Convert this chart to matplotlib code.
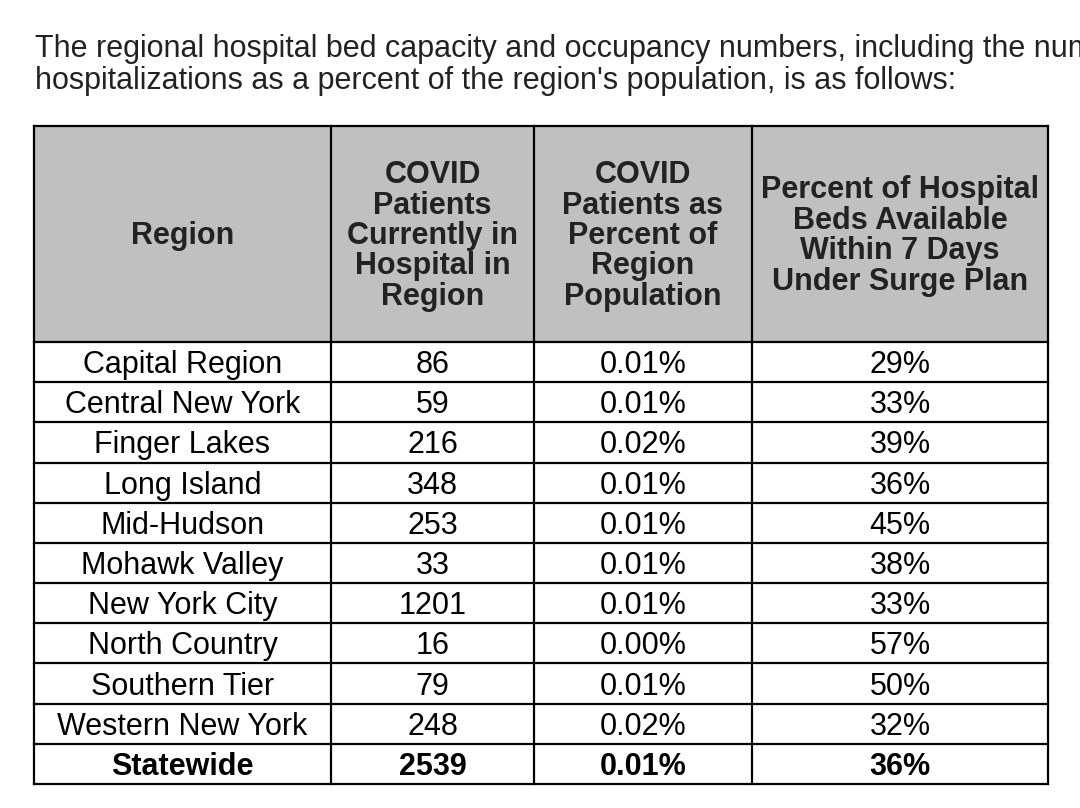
import matplotlib.pyplot as plt

# table content
intro = ("The regional hospital bed capacity and occupancy numbers, including the number of COVID-19\n"
         "hospitalizations as a percent of the region's population, is as follows:")
headers = ["Region",
           "COVID\nPatients\nCurrently in\nHospital in\nRegion",
           "COVID\nPatients as\nPercent of\nRegion\nPopulation",
           "Percent of Hospital\nBeds Available\nWithin 7 Days\nUnder Surge Plan"]
regions = ["Capital Region", "Central New York", "Finger Lakes", "Long Island",
           "Mid-Hudson", "Mohawk Valley", "New York City", "North Country",
           "Southern Tier", "Western New York", "Statewide"]
patients = [86, 59, 216, 348, 253, 33, 1201, 16, 79, 248, 2539]
pct_population = ["0.01%", "0.01%", "0.02%", "0.01%", "0.01%", "0.01%",
                  "0.01%", "0.00%", "0.01%", "0.02%", "0.01%"]
pct_beds = ["29%", "33%", "39%", "36%", "45%", "38%", "33%", "57%", "50%", "32%", "36%"]

# layout in pixels
col_edges = [34, 331, 534, 752, 1048]
top, head_bottom, bottom = 126, 342, 784

plt.rcParams['font.family'] = ['Liberation Sans', 'DejaVu Sans']

fig = plt.figure(figsize=(10.8, 8.08), dpi=100)
ax = fig.add_axes([0, 0, 1, 1])
ax.set_xlim(0, 1080)
ax.set_ylim(808, 0)
ax.axis('off')

ax.text(35, 65, intro, fontsize=22, color='#222222', va='center', ha='left',
        linespacing=1.05, clip_on=True)

# header background
ax.fill_between([col_edges[0], col_edges[-1]], top, head_bottom, color='#c0c0c0', lw=0)

n = len(regions)
row_h = (bottom - head_bottom) / n

for i, h in enumerate(headers):
    cx = (col_edges[i] + col_edges[i + 1]) / 2
    ax.text(cx, (top + head_bottom) / 2 + 2, h, ha='center', va='center',
            fontsize=22, fontweight='bold', color='#222222', linespacing=1.02)

for r in range(n):
    cy = head_bottom + (r + 0.5) * row_h + 3
    vals = [regions[r], str(patients[r]), pct_population[r], pct_beds[r]]
    bold = regions[r] == "Statewide"
    for i, v in enumerate(vals):
        cx = (col_edges[i] + col_edges[i + 1]) / 2
        ax.text(cx, cy, v, ha='center', va='center', fontsize=22,
                fontweight='bold' if bold else 'normal', color='black')

# grid lines
for x in col_edges:
    ax.plot([x, x], [top, bottom], color='black', lw=1.6, solid_capstyle='projecting')
ys = [top, head_bottom] + [head_bottom + (r + 1) * row_h for r in range(n)]
for y in ys:
    ax.plot([col_edges[0], col_edges[-1]], [y, y], color='black', lw=1.6,
            solid_capstyle='projecting')

fig.savefig('out.png', dpi=100)
